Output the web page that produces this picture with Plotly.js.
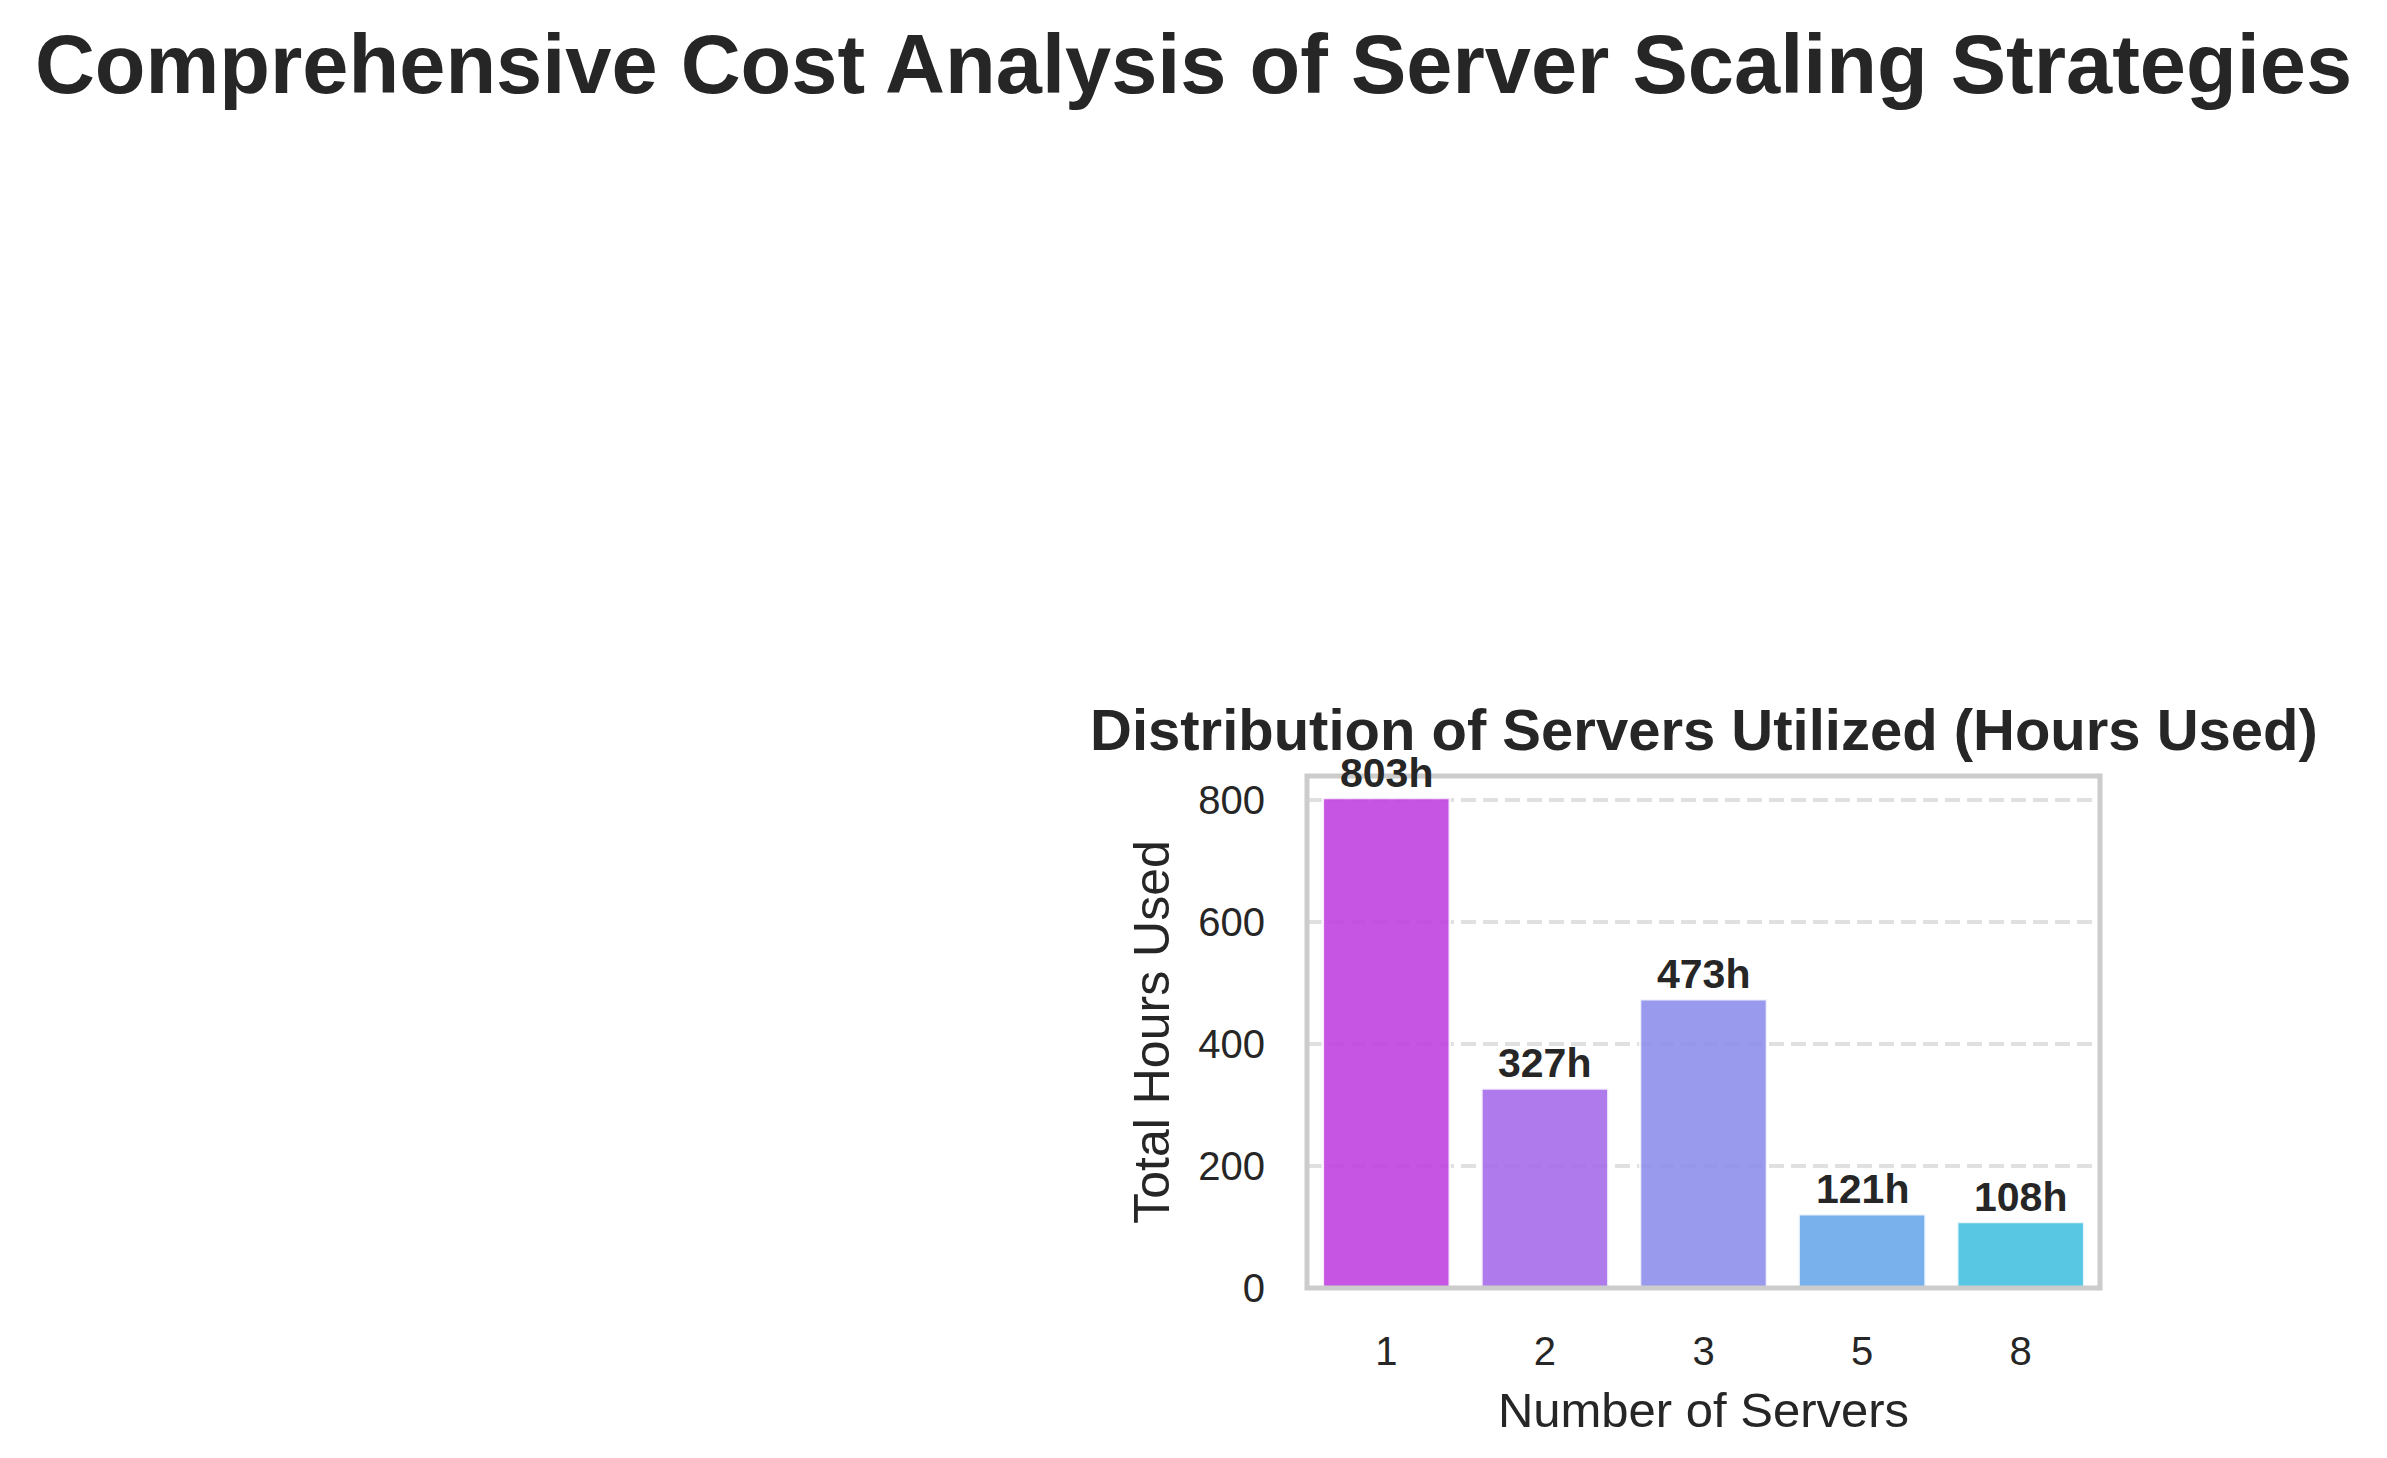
<!DOCTYPE html>
<html>
<head>
<meta charset="utf-8">
<script src="https://cdn.plot.ly/plotly-3.0.1.min.js"></script>
<style>html,body{margin:0;padding:0;background:#fff;}#chart{width:2387px;height:1458px;}</style>
</head>
<body>
<div id="chart"></div>
<script>
const serverCounts = ["1", "2", "3", "5", "8"];
const hoursUsed = [803, 327, 473, 121, 108];
const barColors = ["rgb(194,67,225)", "rgb(167,108,233)", "rgb(143,143,236)", "rgb(107,169,234)", "rgb(69,194,225)"];
const yTicks = [0, 200, 400, 600, 800];

const FONT = "Liberation Sans, Arial, Helvetica, sans-serif";
const TXT = "#262626";

const x0 = 1307 / 2387, x1 = 2100 / 2387;
const y0 = (1458 - 1288) / 1458, y1 = (1458 - 776) / 1458;

const trace = {
  type: "bar",
  x: serverCounts,
  y: hoursUsed,
  width: 0.8,
  marker: { color: barColors, opacity: 0.9, line: { color: "rgba(255,255,255,0.85)", width: 2.5 } },
  hoverinfo: "x+y"
};

const annotations = serverCounts.map((c, i) => ({
  x: i, y: hoursUsed[i], xref: "x", yref: "y",
  text: "<b>" + hoursUsed[i] + "h</b>",
  showarrow: false, yanchor: "bottom", xanchor: "center", yshift: 0,
  font: { family: FONT, size: 41, color: TXT }
}));

annotations.push({
  xref: "paper", yref: "paper", x: (x0 + x1) / 2, y: (1458 - 752) / 1458,
  yanchor: "bottom", xanchor: "center", showarrow: false,
  text: "<b>Distribution of Servers Utilized (Hours Used)</b>",
  font: { family: FONT, size: 58, color: TXT }, yshift: -12
});

const layout = {
  width: 2387, height: 1458,
  paper_bgcolor: "#ffffff", plot_bgcolor: "#ffffff",
  margin: { l: 0, r: 0, t: 0, b: 0 },
  showlegend: false,
  font: { family: FONT, color: TXT },
  title: {
    text: "<b>Comprehensive Cost Analysis of Server Scaling Strategies</b>",
    font: { family: FONT, size: 83, color: TXT },
    x: 0.5, xanchor: "center", y: 1 - 64 / 1458, yanchor: "middle", xref: "paper", yref: "container"
  },
  xaxis: {
    type: "category", domain: [x0, x1], range: [-0.5, 4.5],
    showgrid: false, zeroline: false, showline: false,
    ticks: "outside", ticklen: 28, tickcolor: "rgba(0,0,0,0)",
    tickfont: { family: FONT, size: 40, color: TXT },
    title: { text: "Number of Servers", font: { family: FONT, size: 49, color: TXT }, standoff: 20 },
    fixedrange: true
  },
  yaxis: {
    domain: [y0, y1], range: [0, 839],
    tickvals: yTicks, ticktext: yTicks.map(String),
    showgrid: true, gridcolor: "#e0e0e0", gridwidth: 3.5, griddash: "15px,7px",
    zeroline: false, showline: false,
    ticks: "outside", ticklen: 33, tickcolor: "rgba(0,0,0,0)",
    tickfont: { family: FONT, size: 40, color: TXT },
    title: { text: "Total Hours Used", font: { family: FONT, size: 50, color: TXT }, standoff: 12 },
    fixedrange: true
  },
  shapes: [{
    type: "rect", xref: "paper", yref: "paper", x0: x0, x1: x1, y0: y0, y1: y1,
    line: { color: "#cccccc", width: 5 }, fillcolor: "rgba(0,0,0,0)", layer: "above"
  }],
  annotations: annotations,
  bargap: 0.2
};

Plotly.newPlot("chart", [trace], layout, { displayModeBar: false, staticPlot: true });
</script>
</body>
</html>
